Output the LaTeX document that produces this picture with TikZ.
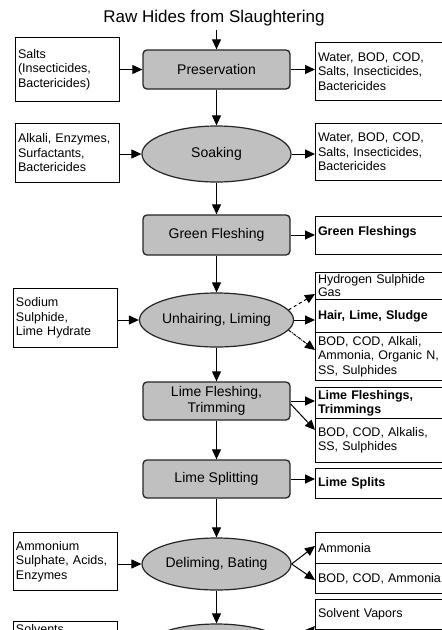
\documentclass[tikz,border=0pt]{standalone}
\usepackage{fontspec}
\setmainfont{Liberation Sans}
\usetikzlibrary{shapes.geometric,arrows.meta,calc}
\definecolor{procgray}{RGB}{192,192,192}
\begin{document}
\begin{tikzpicture}[x=1pt,y=-1pt,
  box/.style={draw, line width=1pt, anchor=north west, align=left, inner xsep=2.5pt, inner ysep=0pt, font=\fontsize{12.5}{14.5}\selectfont},
  lbox/.style={box, text width=99pt},
  rbox/.style={box, text width=140pt},
  bf/.style={font=\fontsize{12.5}{14.5}\selectfont\bfseries},
  proc/.style={draw=black!85, line width=1.3pt, fill=procgray, rounded corners=4pt, minimum width=147pt, align=center, font=\fontsize{14}{16}\selectfont, inner sep=0pt},
  ell/.style={ellipse, draw=black!85, line width=1.2pt, fill=procgray, minimum width=149pt, minimum height=54pt, inner sep=0pt, font=\fontsize{14}{16}\selectfont},
  arr/.style={line width=1pt, -{Triangle[length=10pt,width=9pt]}},
]
\useasboundingbox (0,0) rectangle (442,630);
\fill[white] (0,0) rectangle (442,630);
\clip (0,0) rectangle (442,630);

\node[anchor=base, font=\fontsize{17}{20}\selectfont] (title) at (214,22.5) {Raw Hides from Slaughtering};

% process steps
\node[proc, minimum height=39pt] (pres) at (216.5,69.5) {Preservation};
\node[ell, minimum height=56pt] (soak) at (216.5,154) {Soaking};
\node[proc, minimum height=40pt] (green) at (216.5,235) {Green Fleshing};
\node[ell] (unhair) at (216.5,320) {Unhairing, Liming};
\node[proc, minimum height=38pt, font=\fontsize{14}{16.5}\selectfont] (limefl) at (216.5,401) {Lime Fleshing,\\Trimming};
\node[proc, minimum height=38pt] (split) at (216.5,479) {Lime Splitting};
\node[ell, minimum height=52pt] (delim) at (216.5,564) {Deliming, Bating};
\node[ell] (solv) at (216.5,651) {};

% inputs
\node[lbox, minimum height=64pt] (lsalt) at (15,37) {Salts\\(Insecticides,\\Bactericides)};
\node[lbox, minimum height=59pt] (lalk) at (15,123) {Alkali, Enzymes,\\Surfactants,\\Bactericides};
\node[lbox, minimum height=59pt] (lsod) at (13,288) {Sodium\\Sulphide,\\Lime Hydrate};
\node[lbox, minimum height=58pt] (lamm) at (13,532) {Ammonium\\Sulphate, Acids,\\Enzymes};
\node[lbox, minimum height=58pt, text height=11pt, text depth=45pt] (lsolv) at (13,621) {Solvents};

% outputs
\node[rbox, minimum height=58pt] (r1) at (315,42) {Water, BOD, COD,\\Salts, Insecticides,\\Bactericides};
\node[rbox, minimum height=57pt] (r2) at (315,123) {Water, BOD, COD,\\Salts, Insecticides,\\Bactericides};
\node[rbox, bf, minimum height=38pt, text depth=10pt] (r3) at (315,216) {Green Fleshings};
\node[rbox, minimum height=27pt, font=\fontsize{12.5}{13}\selectfont] (r4a) at (315,272) {Hydrogen Sulphide\\Gas};
\node[rbox, bf, minimum height=33pt] (r4b) at (315,299) {Hair, Lime, Sludge};
\node[rbox, minimum height=48pt] (r4c) at (315,332) {BOD, COD, Alkali,\\Ammonia, Organic N,\\SS, Sulphides};
\node[rbox, minimum height=31pt, font=\fontsize{12.5}{14}\selectfont\bfseries] (r5a) at (315,387) {Lime Fleshings,\\Trimmings};
\node[rbox, minimum height=44pt] (r5b) at (315,418) {BOD, COD, Alkalis,\\SS, Sulphides};
\node[rbox, bf, minimum height=30pt] (r6) at (315,468) {Lime Splits};
\node[rbox, minimum height=31pt] (r7a) at (315,532) {Ammonia};
\node[rbox, minimum height=30pt] (r7b) at (315,563) {BOD, COD, Ammonia};
\node[rbox, minimum height=30pt] (r8) at (315,599) {Solvent Vapors};
\node[rbox, minimum height=30pt] (r8b) at (315,629) {};

% main flow
\draw[arr] (pres.north |- title.south) -- (pres.north);
\draw[arr] (pres) -- (soak);
\draw[arr] (soak) -- (green);
\draw[arr] (green) -- (unhair);
\draw[arr] (unhair) -- (limefl);
\draw[arr] (limefl) -- (split);
\draw[arr] (split) -- (delim);
\draw[arr] (delim) -- (solv);

% inputs
\draw[arr] (lsalt.east |- pres.west) -- (pres.west);
\draw[arr] (lalk.east |- soak.west) -- (soak.west);
\draw[arr] (lsod.east |- unhair.west) -- (unhair.west);
\draw[arr] (lamm.east |- delim.west) -- (delim.west);

% outputs
\draw[arr] (pres.east) -- (pres.east -| r1.west);
\draw[arr] (soak.east) -- (soak.east -| r2.west);
\draw[arr] (green.east) -- (green.east -| r3.west);
\draw[arr, dashed] (unhair.8) -- ($(r4a.south west)+(0,-6)$);
\draw[arr] (unhair.east) -- (unhair.east -| r4b.west);
\draw[arr, densely dashdotted] (unhair.-8) -- ($(r4c.north west)+(0,18)$);
\draw[arr] (limefl.east) -- (limefl.east -| r5a.west);
\draw[arr] ($(limefl.east)+(0,3)$) -- ($(r5b.north west)+(0,12)$);
\draw[arr] (split.east) -- (split.east -| r6.west);
\draw[arr] (delim.east) -- ($(r7a.south west)+(0,-18)$);
\draw[arr] (delim.east) -- ($(r7b.north west)+(0,17)$);
\draw[arr] (solv.east) -- ($(r8.south west)+(0,-4)$);
\end{tikzpicture}
\end{document}
